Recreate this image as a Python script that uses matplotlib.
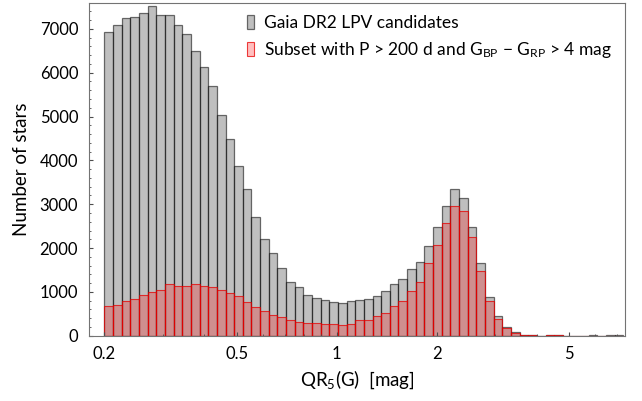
import numpy as np
import matplotlib
matplotlib.use('Agg')
import matplotlib.pyplot as plt
from matplotlib.ticker import AutoMinorLocator, FixedLocator, FixedFormatter

plt.rcParams['font.family'] = ['Lato', 'DejaVu Sans']
plt.rcParams['mathtext.fontset'] = 'custom'
plt.rcParams['mathtext.rm'] = 'Lato'
plt.rcParams['mathtext.it'] = 'Lato:italic'
plt.rcParams['font.size'] = 12

# histogram counts per log-spaced bin (60 bins from 0.2 to ~7.3 mag)
bin_lo, bin_hi, n_bins = 0.2, 7.3, 60
all_lpv = [6920, 7080, 7240, 7275, 7350, 7530, 7325, 7320, 7080, 6890,
           6490, 6130, 5706, 5030, 4488, 3875, 3340, 2714, 2218, 1880,
           1542, 1218, 1104, 920, 870, 815, 765, 745, 785, 815,
           838, 909, 1023, 1180, 1290, 1519, 1679, 2051, 2492, 2955,
           3340, 3148, 2492, 1656, 893, 452, 208, 80, 20, 20,
           0, 15, 15, 0, 0, 0, 8, 0, 8, 8]
subset = [681, 697, 788, 841, 932, 1007, 1046, 1176, 1144, 1137,
          1190, 1125, 1108, 1046, 985, 909, 772, 651, 566, 475,
          429, 361, 315, 296, 293, 275, 259, 250, 278, 350,
          361, 441, 514, 670, 795, 1023, 1232, 1650, 2070, 2580,
          2965, 2857, 2250, 1480, 795, 391, 180, 63, 12, 12,
          0, 15, 15, 0, 0, 0, 0, 0, 0, 0]

xticks = [0.2, 0.5, 1, 2, 5]
xticklabels = ['0.2', '0.5', '1', '2', '5']

edges = np.logspace(np.log10(bin_lo), np.log10(bin_hi), n_bins + 1)
centers = np.sqrt(edges[:-1] * edges[1:])

fig = plt.figure(figsize=(6.42, 4.01), dpi=100)
ax = fig.add_axes([0.139, 0.1626, 0.835, 0.829])

ax.hist(centers, bins=edges, weights=all_lpv, facecolor=(0.5, 0.5, 0.5, 0.5),
        edgecolor=(0, 0, 0, 0.55), linewidth=0.9, label='Gaia DR2 LPV candidates')
ax.hist(centers, bins=edges, weights=subset, facecolor=(1, 0, 0, 0.25),
        edgecolor=(0.9, 0, 0, 0.75), linewidth=0.8,
        label='Subset with P > 200 d and G$_{\\rm BP}$ \u2212 G$_{\\rm RP}$ > 4 mag')

ax.set_xscale('log')
ax.set_xlim(0.18, 7.4)
ax.set_ylim(0, 7580)
ax.xaxis.set_major_locator(FixedLocator(xticks))
ax.xaxis.set_major_formatter(FixedFormatter(xticklabels))
ax.xaxis.set_minor_formatter(FixedFormatter([]))
ax.yaxis.set_minor_locator(AutoMinorLocator(5))
ax.tick_params(which='both', direction='in', colors='0.3', labelcolor='k')
ax.tick_params(which='major', length=3)
ax.tick_params(which='minor', length=1.5)
ax.tick_params(axis='y', which='major', pad=8)
ax.tick_params(axis='x', which='major', pad=7)
for s in ax.spines.values():
    s.set_color('0.45')

ax.set_xlabel(r'QR$_5$(G)  [mag]', fontsize=13.5, labelpad=5)
ax.set_ylabel('Number of stars', fontsize=13.5, labelpad=7)

ax.legend(loc='upper right', bbox_to_anchor=(1.005, 1.012), frameon=False,
          fontsize=12.5, handlelength=0.4, handleheight=0.9,
          handletextpad=0.6, labelspacing=0.5)

fig.savefig('out.png', dpi=100)
